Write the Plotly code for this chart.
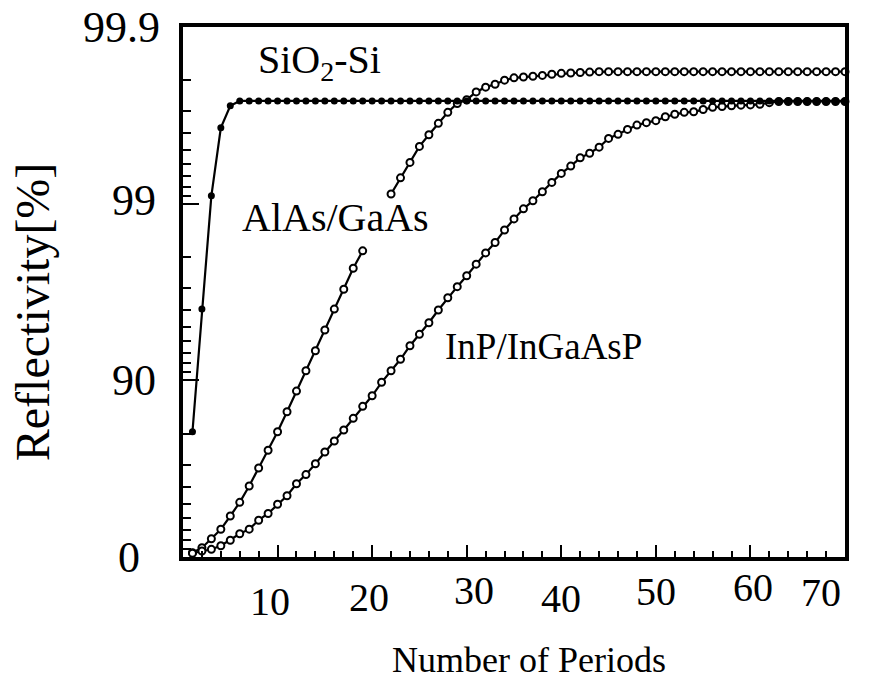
import numpy as np
import plotly.graph_objects as go

# Number of mirror periods
periods = list(range(1, 71))

# Peak reflectivity [%] versus number of periods
sio2_si = [
    80.46, 96.05, 99.098, 99.628, 99.721, 99.738, 99.738, 99.738, 99.738, 99.738,
    99.738, 99.738, 99.738, 99.738, 99.738, 99.738, 99.738, 99.738, 99.738, 99.738,
    99.738, 99.738, 99.738, 99.738, 99.738, 99.738, 99.738, 99.738, 99.738, 99.738,
    99.738, 99.738, 99.738, 99.738, 99.738, 99.738, 99.738, 99.738, 99.738, 99.738,
    99.738, 99.738, 99.738, 99.738, 99.738, 99.738, 99.738, 99.738, 99.738, 99.738,
    99.738, 99.738, 99.738, 99.738, 99.738, 99.738, 99.738, 99.738, 99.738, 99.738,
    99.738, 99.738, 99.738, 99.738, 99.738, 99.738, 99.738, 99.738, 99.738, 99.738,
]

alas_gaas = [
    5.44, 11.42, 21.20, 30.30, 41.39, 50.97, 60.36, 68.66, 75.11, 80.46,
    84.95, 88.50, 91.18, 93.20, 94.81, 96.05, 96.95, 97.68, 98.15, None,
    None, 99.118, 99.286, 99.416, 99.526, 99.593, 99.649, 99.696, 99.729, 99.742,
    99.767, 99.781, 99.789, 99.800, 99.806, 99.808, 99.810, 99.812, 99.815, 99.817,
    99.818, 99.819, 99.820, 99.821, 99.821, 99.821, 99.821, 99.821, 99.821, 99.821,
    99.821, 99.821, 99.821, 99.821, 99.821, 99.821, 99.821, 99.821, 99.821, 99.821,
    99.821, 99.821, 99.821, 99.821, 99.821, 99.821, 99.821, 99.821, 99.821, 99.821,
]

inp_ingaasp = [
    4.72, 7.53, 9.54, 13.58, 19.67, 26.09, 30.46, 38.09, 43.28, 49.74,
    54.97, 61.49, 65.83, 70.35, 74.55, 77.94, 80.89, 83.59, 85.97, 87.77,
    89.74, 91.18, 92.40, 93.63, 94.51, 95.28, 96.00, 96.59, 97.05, 97.44,
    97.80, 98.10, 98.34, 98.59, 98.78, 98.93, 99.037, 99.144, 99.242, 99.326,
    99.387, 99.450, 99.482, 99.521, 99.573, 99.595, 99.620, 99.641, 99.652, 99.661,
    99.678, 99.688, 99.696, 99.698, 99.707, 99.715, 99.718, 99.721, 99.723, 99.724,
    99.726, 99.732, 99.736, 99.736, 99.736, 99.736, 99.736, 99.736, 99.736, 99.736,
]

# Reflectivity axis: labelled levels and minor tick levels [%]
y_major_pct = [0, 90, 99, 99.9]
y_major_text = ["0", "90", "99", "99.9"]
y_minor_pct = [10, 20, 30, 40, 50, 60, 70, 80,
               91, 92, 93, 94, 95, 96, 97, 98,
               99.1, 99.2, 99.3, 99.4, 99.5, 99.6, 99.7, 99.8]

x_major = [10, 20, 30, 40, 50, 60, 70]
x_major_text = ["10", "20", "30", "40", "50", "60", "70"]

series_names = ["SiO<sub>2</sub>-Si", "AlAs/GaAs", "InP/InGaAsP"]

# Hand-set label placement (pixels) for the tick numbers
x_label_dx = [-8, -3, 7, 0, 0, 3, -24]
x_label_drop = [44, 40, 33, 41, 34, 30, 35]
y_label_gap = [41, 25, 25, 21]
y_label_dy = [0, 0, 3, 0]


def nines(pct):
    """Map reflectivity [%] to the 'number of nines' scale: -log10(1 - R)."""
    out = []
    for p in pct:
        out.append(None if p is None else -np.log10(1.0 - p / 100.0))
    return out


Y_TOP = 3.0  # 99.9 %
FONT = "Liberation Serif"
fig = go.Figure()

open_marker = dict(symbol="circle", size=7, color="white",
                   line=dict(color="black", width=2))

fig.add_trace(go.Scatter(
    x=periods, y=nines(alas_gaas), mode="lines+markers", connectgaps=False,
    line=dict(color="black", width=2.2), marker=open_marker,
    showlegend=False, cliponaxis=False))

fig.add_trace(go.Scatter(
    x=periods, y=nines(inp_ingaasp), mode="lines+markers",
    line=dict(color="black", width=2.2), marker=open_marker,
    showlegend=False, cliponaxis=False))

fig.add_trace(go.Scatter(
    x=periods, y=nines(sio2_si), mode="lines+markers",
    line=dict(color="black", width=2.2),
    marker=dict(symbol="circle", size=7, color="black"),
    showlegend=False, cliponaxis=False))

fig.update_xaxes(
    range=[0, 70], tickvals=x_major, showticklabels=False,
    automargin=False, showgrid=False, zeroline=False,
    showline=True, linewidth=4, linecolor="black", mirror=True,
    ticks="inside", ticklen=12, tickwidth=2, tickcolor="black",
    minor=dict(dtick=2, tick0=0, ticks="inside", ticklen=6,
               tickwidth=1.5, tickcolor="black", showgrid=False),
)

fig.update_yaxes(
    range=[0, Y_TOP], tickvals=nines(y_major_pct), showticklabels=False,
    automargin=False, showgrid=False, zeroline=False,
    showline=True, linewidth=4, linecolor="black", mirror=True,
    ticks="inside", ticklen=16, tickwidth=2, tickcolor="black",
    minor=dict(tickvals=nines(y_minor_pct), ticks="inside", ticklen=8,
               tickwidth=1.5, tickcolor="black", showgrid=False),
)

# Tick numbers
tick_font_x = dict(family=FONT, size=40, color="black")
for val, txt, dx, drop in zip(x_major, x_major_text, x_label_dx, x_label_drop):
    fig.add_annotation(x=val, y=0, xref="x", yref="paper", text=txt,
                       xanchor="center", yanchor="middle",
                       xshift=dx, yshift=-drop, showarrow=False,
                       font=tick_font_x)

tick_font_y = dict(family=FONT, size=44, color="black")
for val, txt, gap, dy in zip(nines(y_major_pct), y_major_text,
                             y_label_gap, y_label_dy):
    fig.add_annotation(x=0, y=round(val, 6) / Y_TOP, xref="paper", yref="paper",
                       text=txt, xanchor="right", yanchor="middle",
                       xshift=-gap, yshift=dy, showarrow=False,
                       font=tick_font_y)

# Curve labels
for xpos, ypos, name, size in [(14.4, 2.80, series_names[0], 40),
                               (16.1, 1.92, series_names[1], 40),
                               (38.1, 1.19, series_names[2], 37)]:
    fig.add_annotation(x=xpos, y=ypos, xref="x", yref="y", text=name,
                       xanchor="center", yanchor="middle",
                       showarrow=False,
                       font=dict(family=FONT, size=size, color="black"))

# Axis titles
fig.add_annotation(x=0.523, y=-0.195, xref="paper", yref="paper",
                   xanchor="center", yanchor="middle",
                   text="Number of Periods", showarrow=False,
                   font=dict(family=FONT, size=36, color="black"))
fig.add_annotation(x=-0.228, y=0.462, xref="paper", yref="paper",
                   xanchor="center", yanchor="middle",
                   text="Reflectivity[%]", showarrow=False, textangle=-90,
                   font=dict(family=FONT, size=48, color="black"))

fig.update_layout(
    width=871, height=688,
    margin=dict(l=183, r=26, t=27, b=131, autoexpand=False),
    paper_bgcolor="white", plot_bgcolor="white",
    showlegend=False,
)

fig.write_html("out.html")
